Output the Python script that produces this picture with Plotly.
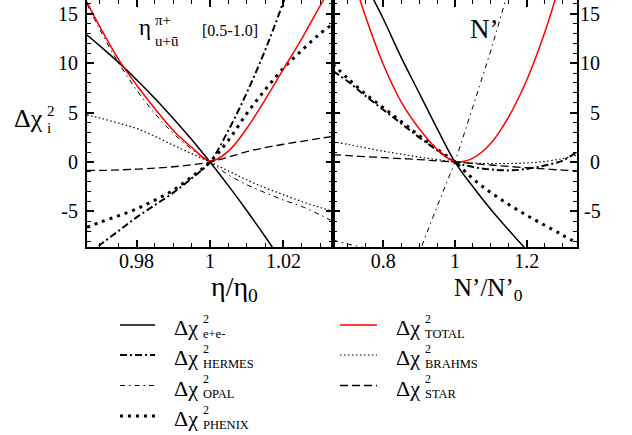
import plotly.graph_objects as go

# ---------------- data ----------------
eta_x = [0.9665, 0.97, 0.975, 0.98, 0.985, 0.99, 0.995, 1.0,
         1.005, 1.01, 1.015, 1.02, 1.025, 1.03, 1.0335]
ee_eta = [12.85, 11.76, 10.11, 8.33, 6.44, 4.41, 2.27, 0.0,
          -2.39, -4.91, -7.54, -10.3, -13.2, None, None]
hermes_eta = [-9.5, -8.4, -7.0, -5.6, -4.35, -3.1, -1.65, 0.0,
              3.2, 7.0, 11.3, 16.2, 21.5, None, None]
opal_eta = [16.0, 13.4, 10.1, 7.3, 4.9, 2.9, 1.3, 0.0,
            -1.3, -2.3, -3.1, -3.85, -4.5, -5.35, -6.0]
phenix_eta = [-6.6, -6.1, -5.45, -4.75, -3.85, -2.85, -1.5, 0.0,
              2.2, 4.9, 7.3, 9.5, 11.3, 13.0, 14.0]
total_eta = [16.2, 13.7, 10.45, 7.8, 5.4, 3.2, 1.5, 0.1,
             1.1, 3.4, 6.3, 9.4, 12.5, 15.8, 18.0]
brahms_eta = [4.75, 4.45, 3.95, 3.4, 2.6, 1.7, 0.85, 0.0,
              -0.9, -1.8, -2.6, -3.3, -4.0, -4.6, -5.0]
star_eta = [-0.85, -0.85, -0.8, -0.72, -0.62, -0.48, -0.28, 0.0,
            0.5, 1.05, 1.45, 1.8, 2.1, 2.4, 2.6]

n_x = [0.66, 0.7, 0.75, 0.8, 0.85, 0.9, 0.95, 1.0,
       1.05, 1.1, 1.15, 1.2, 1.25, 1.3, 1.34]
ee_n = [None, 23.0, 18.2, 14.5, 10.6, 7.0, 3.4, 0.0,
        -2.5, -4.8, -6.9, -8.9, -10.8, None, None]
hermes_n = [9.2, 8.2, 6.7, 5.3, 3.9, 2.5, 1.2, 0.0,
            -0.5, -0.75, -0.85, -0.7, -0.35, 0.15, 1.05]
opal_n = [-7.9, -8.3, -8.7, -11.0, -12.5, -9.2, -4.5, 0.0,
          5.6, 11.3, 17.5, None, None, None, None]
phenix_n = [9.9, 8.5, 6.9, 5.5, 4.1, 2.7, 1.3, 0.0,
            -1.7, -3.1, -4.3, -5.4, -6.4, -7.4, -8.2]
total_n = [None, 20.5, 14.8, 9.9, 6.1, 3.4, 1.3, 0.05,
           0.4, 1.9, 4.6, 8.3, 13.1, 19.0, None]
brahms_n = [2.05, 1.8, 1.45, 1.1, 0.8, 0.5, 0.25, 0.0,
            -0.1, -0.15, -0.15, -0.1, 0.05, 0.35, 0.7]
star_n = [0.75, 0.65, 0.55, 0.45, 0.35, 0.25, 0.12, 0.0,
          -0.15, -0.3, -0.45, -0.58, -0.7, -0.82, -0.9]

eta_tickvals = [0.98, 1.0, 1.02]
eta_ticktext = ["0.98", "1", "1.02"]
n_tickvals = [0.8, 1.0, 1.2]
n_ticktext = ["0.8", "1", "1.2"]
y_tickvals = [-5, 0, 5, 10, 15]
y_ticktext = ["-5", "0", "5", "10", "15"]
y2_ticktext = ["\u2009-5", "\u20070", "\u20075", "10", "15"]

series_names = ["e+e-", "HERMES", "OPAL", "PHENIX", "TOTAL", "BRAHMS", "STAR"]
left_data = [ee_eta, hermes_eta, opal_eta, phenix_eta, total_eta, brahms_eta, star_eta]
right_data = [ee_n, hermes_n, opal_n, phenix_n, total_n, brahms_n, star_n]

# ---------------- styles ----------------
FONT = "Liberation Serif, Times New Roman, DejaVu Serif, serif"
styles = {
    "e+e-":   dict(color="black", width=1.5, dash="solid"),
    "HERMES": dict(color="black", width=2.0, dash="7px,3px,2px,3px"),
    "OPAL":   dict(color="black", width=1.0, dash="5px,4px,1.5px,4px"),
    "PHENIX": dict(color="black", width=3.0, dash="3px,5px"),
    "TOTAL":  dict(color="#ff0000", width=1.5, dash="solid"),
    "BRAHMS": dict(color="black", width=1.2, dash="1.5px,2.5px"),
    "STAR":   dict(color="black", width=1.3, dash="8px,4px"),
}

W, H = 632, 435
L, R, T, B = 87, 55, 0, 188
PW, PH = W - L - R, H - T - B


def fx(p):
    return (p - L) / PW


def fy(p):
    return 1 - (p - T) / PH


fig = go.Figure()
for name, ld, rd in zip(series_names, left_data, right_data):
    st = styles[name]
    shape_r = "linear" if name == "OPAL" else "spline"
    fig.add_trace(go.Scatter(x=eta_x, y=ld, mode="lines", name=name,
                             line=dict(color=st["color"], width=st["width"], dash=st["dash"], shape="spline"),
                             xaxis="x", yaxis="y", showlegend=False, hoverinfo="skip"))
    fig.add_trace(go.Scatter(x=n_x, y=rd, mode="lines", name=name,
                             line=dict(color=st["color"], width=st["width"], dash=st["dash"], shape=shape_r),
                             xaxis="x2", yaxis="y2", showlegend=False, hoverinfo="skip"))

split = (333 - L) / PW
common_ax = dict(showline=True, linecolor="black", linewidth=2, mirror="ticks",
                 ticks="inside", ticklen=7, tickwidth=1.5, tickcolor="black",
                 showgrid=False, zeroline=False, automargin=False,
                 tickfont=dict(family=FONT, size=20, color="black"))

fig.update_layout(
    width=W, height=H,
    margin=dict(l=L, r=R, t=T, b=B, pad=0, autoexpand=False),
    paper_bgcolor="white", plot_bgcolor="white",
    showlegend=False,
    font=dict(family=FONT, color="black"),
    xaxis=dict(domain=[0, split], range=[0.9665, 1.0335], anchor="y",
               tickmode="array", tickvals=eta_tickvals, ticktext=eta_ticktext,
               ticklabelstandoff=-5,
               minor=dict(tickmode="linear", tick0=1.0, dtick=0.005, ticks="inside",
                          ticklen=4, tickwidth=1.2, tickcolor="black"),
               **common_ax),
    xaxis2=dict(domain=[split, 1], range=[0.66, 1.34], anchor="y2",
                tickmode="array", tickvals=n_tickvals, ticktext=n_ticktext,
                ticklabelstandoff=-5,
                minor=dict(tickmode="linear", tick0=1.0, dtick=0.05, ticks="inside",
                           ticklen=4, tickwidth=1.2, tickcolor="black"),
                **common_ax),
    yaxis=dict(domain=[0, 1], range=[-8.6, 16.4], anchor="x",
               tickmode="array", tickvals=y_tickvals, ticktext=y_ticktext,
               ticklabelstandoff=3,
               minor=dict(tickmode="linear", tick0=0, dtick=1, ticks="inside",
                          ticklen=4, tickwidth=1.2, tickcolor="black"),
               **common_ax),
    yaxis2=dict(domain=[0, 1], range=[-8.6, 16.4], anchor="x2", side="right",
                tickmode="array", tickvals=y_tickvals, ticktext=y2_ticktext,
                ticklabelstandoff=-3,
                minor=dict(tickmode="linear", tick0=0, dtick=1, ticks="inside",
                           ticklen=4, tickwidth=1.2, tickcolor="black"),
                **common_ax),
)

ann = []


def add_text(text, x, y, size, xanchor="center", pad=1):
    ann.append(dict(text=text, x=fx(x), y=fy(y), xref="paper", yref="paper",
                    xanchor=xanchor, yanchor="middle", showarrow=False, borderpad=pad,
                    font=dict(family=FONT, size=size, color="black")))


# y-axis title
add_text("Δχ", 28, 118.5, 26)
add_text("2", 45, 111, 15, xanchor="left")
add_text("i", 45, 128, 15, xanchor="left")
# x-axis titles
add_text("η/η<sub>0</sub>", 209, 288, 28, xanchor="left")
add_text("N’/N’<sub>0</sub>", 452, 289, 25, xanchor="left")
# in-panel labels
add_text("η", 145, 27.6, 23)
add_text("π+", 153, 19.5, 15, xanchor="left")
add_text("u+ū", 153, 41.5, 15, xanchor="left")
add_text("[0.5-1.0]", 200, 30.6, 16, xanchor="left")
add_text("N’", 468, 29, 27, xanchor="left")

# legend (two columns)
legend_rows = [("e+e-", 120, 155, 173, 325), ("HERMES", 120, 155, 173, 355),
               ("OPAL", 120, 155, 173, 385.5), ("PHENIX", 120, 155, 173, 416),
               ("TOTAL", 340, 377, 395, 325), ("BRAHMS", 340, 377, 395, 355),
               ("STAR", 340, 377, 395, 385.5)]
shapes = []
for name, x0, x1, tx, ly in legend_rows:
    st = styles[name]
    shapes.append(dict(type="line", xref="paper", yref="paper",
                       x0=fx(x0), x1=fx(x1), y0=fy(ly), y1=fy(ly),
                       line=dict(color=st["color"], width=st["width"], dash=st["dash"])))
    add_text("Δχ", tx, ly + 2.6, 22, xanchor="left", pad=0)
    add_text("2", tx + 28.5, ly - 6.5, 12, xanchor="left", pad=0)
    add_text(name, tx + 28.5, ly + 8.8, 12.5, xanchor="left", pad=0)

fig.update_layout(annotations=ann, shapes=shapes)
fig.write_html("out.html", config={"displayModeBar": False},
               post_script="document.body.style.margin='0px';document.body.style.padding='0px';")
